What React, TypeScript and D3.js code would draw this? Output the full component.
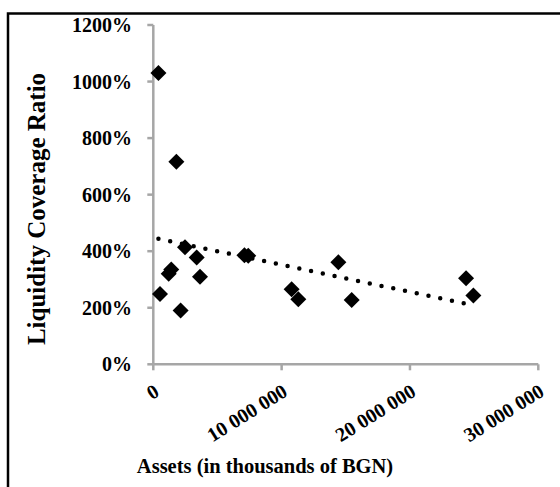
import React from "react";
import * as d3 from "d3";

// Bank assets (thousands of BGN) and liquidity coverage ratio (%)
const assets = [
  400000, 520000, 1200000, 1400000, 1800000, 2130000, 2470000, 3380000,
  3640000, 7100000, 7400000, 10780000, 11300000, 14420000, 15460000,
  24370000, 24940000,
];
const lcr = [
  1030, 249, 320, 335, 716, 190, 414, 378, 310, 386, 384, 265, 230, 361, 227,
  304, 243,
];

const xTicks = [0, 10000000, 20000000, 30000000];
const xTickLabels = ["0", "10 000 000", "20 000 000", "30 000 000"];
const yTicks = [0, 200, 400, 600, 800, 1000, 1200];
const yTickLabels = ["0%", "200%", "400%", "600%", "800%", "1000%", "1200%"];

const W = 560;
const H = 487;
const FONT = "'Liberation Serif', 'Times New Roman', serif";
const AXIS = "#a6a6a6";

export default function App() {
  const x = d3.scaleLinear().domain([0, 30000000]).range([153.3, 538.3]);
  const y = d3.scaleLinear().domain([0, 1200]).range([364.3, 25]);

  // Least-squares linear trendline over the data range
  const pts = assets.map((a, i) => ({ a, r: lcr[i] }));
  const mx = d3.mean(pts, (p) => p.a) as number;
  const my = d3.mean(pts, (p) => p.r) as number;
  const sxy = d3.sum(pts, (p) => (p.a - mx) * (p.r - my));
  const sxx = d3.sum(pts, (p) => (p.a - mx) * (p.a - mx));
  const slope = sxy / sxx;
  const icpt = my - slope * mx;
  const [xmin, xmax] = d3.extent(assets) as [number, number];
  const trend = [xmin, xmax].map((a) => ({ a, r: icpt + slope * a }));
  const trendPath = d3
    .line<{ a: number; r: number }>()
    .x((d) => x(d.a))
    .y((d) => y(d.r))(trend) as string;

  const diamond = (cx: number, cy: number, s: number) =>
    `M${cx},${cy - s}L${cx + s},${cy}L${cx},${cy + s}L${cx - s},${cy}Z`;

  const x0 = x(0);
  const y0 = y(0);

  return (
    <svg
      width={W}
      height={H}
      style={{ position: "absolute", left: 0, top: 0, background: "#fff" }}
      fontFamily={FONT}
      fontWeight="bold"
    >
      <rect x={0} y={0} width={W} height={H} fill="#fff" />
      <rect
        x={8}
        y={13.5}
        width={700}
        height={700}
        fill="none"
        stroke="#000"
        strokeWidth={2.5}
      />

      {/* y axis */}
      <line x1={x0} x2={x0} y1={y(1200)} y2={y0} stroke={AXIS} strokeWidth={2.5} />
      {yTicks.map((t, i) => (
        <g key={`y${t}`}>
          <line
            x1={x0 - 6}
            x2={x0}
            y1={y(t)}
            y2={y(t)}
            stroke={AXIS}
            strokeWidth={2.5}
          />
          <text
            x={132}
            y={y(t)}
            dy="0.35em"
            textAnchor="end"
            fontSize={20}
            fill="#000"
          >
            {yTickLabels[i]}
          </text>
        </g>
      ))}

      {/* x axis */}
      <line x1={x0} x2={x(30000000)} y1={y0} y2={y0} stroke={AXIS} strokeWidth={2.5} />
      {xTicks.map((t, i) => (
        <g key={`x${t}`}>
          <line
            x1={x(t)}
            x2={x(t)}
            y1={y0}
            y2={y0 + 6}
            stroke={AXIS}
            strokeWidth={2.5}
          />
          <text
            transform={`translate(${x(t)},${y0 + 19}) rotate(-32)`}
            dy="0.68em"
            textAnchor="end"
            fontSize={20}
            fill="#000"
          >
            {xTickLabels[i]}
          </text>
        </g>
      ))}

      {/* data points */}
      {pts.map((p, i) => (
        <path key={i} d={diamond(x(p.a), y(p.r), 8)} fill="#000" />
      ))}

      {/* trendline */}
      <path
        d={trendPath}
        fill="none"
        stroke="#000"
        strokeWidth={4.5}
        strokeLinecap="round"
        strokeDasharray="0 12"
      />

      {/* axis titles */}
      <text
        x={265}
        y={472.5}
        textAnchor="middle"
        fontSize={20.5}
        fill="#000"
      >
        Assets (in thousands of BGN)
      </text>
      <text
        transform="translate(45,209) rotate(-90)"
        textAnchor="middle"
        fontSize={25}
        fill="#000"
      >
        Liquidity Coverage Ratio
      </text>
    </svg>
  );
}
